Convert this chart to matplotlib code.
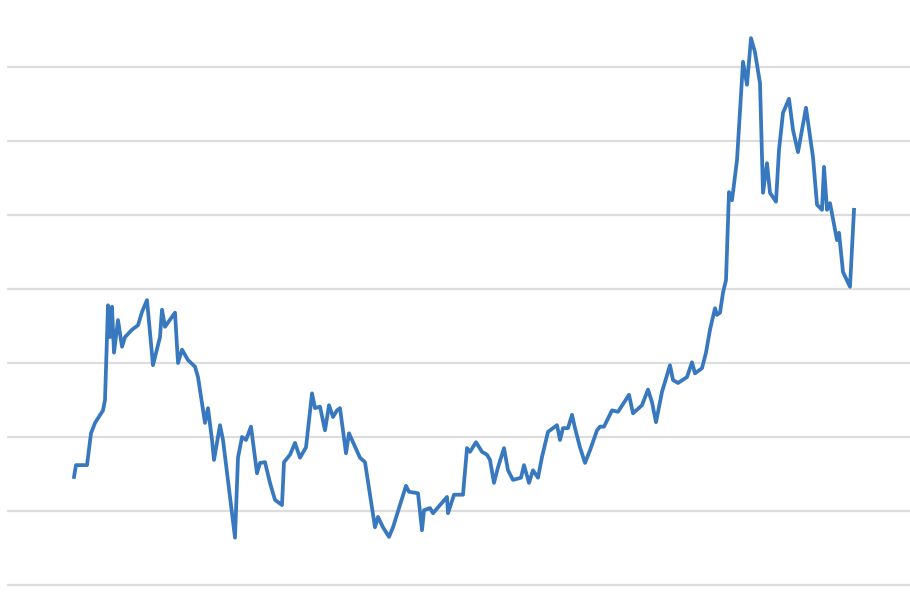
import matplotlib
matplotlib.use("Agg")
import matplotlib.pyplot as plt

# ============================
# Data
# ============================
days = [1, 3, 14, 18, 22, 30, 32, 35, 37, 39, 41, 45, 49, 52, 59, 65, 69, 74, 80, 87,
        89, 92, 102, 105, 109, 115, 122, 125, 132, 135, 139, 141, 147, 150, 162, 165, 169, 173, 178, 184,
        187, 192, 197, 202, 209, 211, 217, 222, 227, 233, 239, 242, 247, 252, 256, 260, 264, 267, 273, 276,
        280, 287, 292, 302, 305, 310, 316, 320, 327, 333, 336, 345, 349, 351, 357, 360, 367, 374, 375, 381,
        390, 394, 397, 403, 409, 414, 417, 421, 425, 431, 435, 440, 448, 451, 456, 460, 465, 469, 475, 484,
        487, 490, 495, 499, 502, 507, 512, 517, 524, 527, 531, 539, 545, 556, 560, 569, 575, 579, 583, 589,
        597, 600, 605, 614, 619, 622, 629, 633, 637, 642, 644, 647, 650, 653, 656, 659, 664, 670, 674, 678,
        682, 687, 690, 694, 697, 703, 706, 710, 716, 720, 725, 733, 740, 744, 749, 751, 754, 757, 764, 766,
        770, 777, 781]
values = [1.46, 1.62, 1.62, 2.05, 2.19, 2.36, 2.50, 3.78, 3.35, 3.76, 3.14, 3.58, 3.22, 3.35, 3.45, 3.51, 3.69, 3.85, 2.97, 3.35,
          3.72, 3.49, 3.68, 3.00, 3.18, 3.04, 2.95, 2.81, 2.19, 2.39, 1.96, 1.69, 2.16, 1.96, 0.64, 1.72, 2.00, 1.96, 2.14, 1.51,
          1.65, 1.66, 1.38, 1.15, 1.08, 1.66, 1.76, 1.92, 1.72, 1.86, 2.59, 2.39, 2.41, 2.09, 2.43, 2.27, 2.36, 2.39, 1.78, 2.05,
          1.93, 1.72, 1.66, 0.78, 0.92, 0.78, 0.65, 0.78, 1.08, 1.34, 1.26, 1.24, 0.74, 1.01, 1.04, 0.97, 1.08, 1.19, 0.97, 1.22,
          1.22, 1.85, 1.80, 1.93, 1.80, 1.76, 1.69, 1.38, 1.59, 1.85, 1.55, 1.42, 1.45, 1.62, 1.38, 1.55, 1.45, 1.73, 2.07, 2.16,
          1.96, 2.12, 2.12, 2.30, 2.12, 1.86, 1.65, 1.82, 2.09, 2.14, 2.14, 2.36, 2.34, 2.57, 2.32, 2.43, 2.64, 2.47, 2.20, 2.61,
          2.97, 2.77, 2.73, 2.81, 3.01, 2.86, 2.93, 3.14, 3.45, 3.74, 3.65, 3.68, 3.95, 4.12, 5.31, 5.20, 5.74, 7.07, 6.76, 7.39,
          7.20, 6.78, 5.30, 5.70, 5.30, 5.18, 5.88, 6.38, 6.57, 6.15, 5.85, 6.45, 5.78, 5.14, 5.07, 5.65, 5.07, 5.16, 4.66, 4.76,
          4.23, 4.03, 5.07]
grid_levels = [0, 1, 2, 3, 4, 5, 6, 7]

# ============================
# Plot
# ============================
fig = plt.figure(figsize=(9.10, 5.96), dpi=100)
ax = fig.add_axes([7 / 910, 0, 903 / 910, 1])

ax.plot(days, values, color='#3778bf', linewidth=2.7, solid_joinstyle='round', zorder=3)

ax.set_xlim(-66, 837)
ax.set_ylim(-11 / 74, 585 / 74)
ax.set_yticks(grid_levels)
ax.set_xticks([])
ax.grid(True, axis='y', color='#dddddd', linewidth=1.6)
ax.set_axisbelow(True)
ax.tick_params(left=False, labelleft=False)
for s in ax.spines.values():
    s.set_visible(False)

fig.savefig('out.png', dpi=100)
